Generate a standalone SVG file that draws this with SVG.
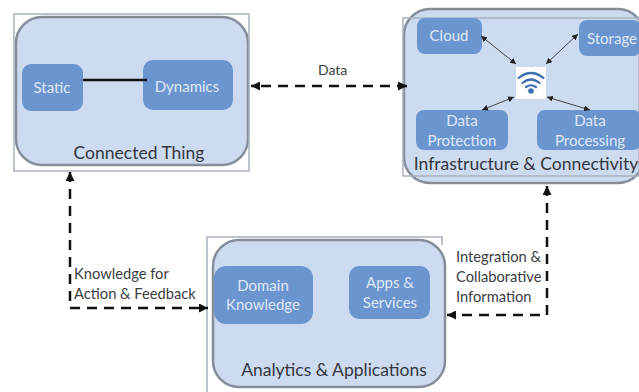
<svg xmlns="http://www.w3.org/2000/svg" width="639" height="392" viewBox="0 0 639 392">
<style>
text{font-family:"Lato","Open Sans","Liberation Sans",sans-serif}
.frame{fill:none;stroke:#a9b1bd;stroke-width:1.5}
.panel{fill:#cddbf1;stroke:#858d9b;stroke-width:2.5}
.box{fill:#6b95cf}
.w{fill:#dfe8f6;font-size:15px;text-anchor:middle}
.d{fill:#33383f;font-size:17.5px;text-anchor:middle}
.l{fill:#3a3d42;font-size:14.7px}
.dash{fill:none;stroke:#111;stroke-width:2.5;stroke-dasharray:10 7}
.thin{fill:none;stroke:#444;stroke-width:1;marker-start:url(#s);marker-end:url(#s)}
</style>
<defs>
<marker id="a" markerWidth="9" markerHeight="9" refX="6" refY="3" orient="auto-start-reverse" markerUnits="userSpaceOnUse" viewBox="0 0 6 6"><path d="M0 0L6 3L0 6Z" fill="#111"/></marker>
<marker id="s" markerWidth="6" markerHeight="6" refX="5" refY="2.5" orient="auto-start-reverse" markerUnits="userSpaceOnUse" viewBox="0 0 5 5"><path d="M0 0L5 2.500L0 5Z" fill="#222"/></marker>
</defs>
<rect width="639" height="392" fill="#fff"/>
<g id="connected-thing">
<rect class="panel" x="16" y="17" width="232" height="148" rx="26"/>
<rect class="frame" x="14" y="14" width="235" height="157"/>
<text class="d" x="139" y="159">Connected Thing</text>
</g>
<g id="static"><rect class="box" x="22" y="64" width="61" height="47" rx="9"/><text class="w" x="52" y="93">Static</text></g>
<g id="dynamics"><rect class="box" x="143" y="60" width="90" height="50" rx="10"/><text class="w" x="187" y="92">Dynamics</text></g>
<g id="infrastructure">
<rect class="panel" x="404" y="9" width="240" height="174" rx="26"/>
<rect class="frame" x="403" y="18" width="236" height="158"/>
<text class="d" x="526" y="170">Infrastructure &amp; Connectivity</text>
</g>
<g id="cloud"><rect class="box" x="417" y="18" width="65" height="36" rx="8"/><text class="w" x="449" y="41">Cloud</text></g>
<g id="storage"><rect class="box" x="579" y="20" width="62" height="36" rx="8"/><text class="w" x="612" y="44">Storage</text></g>
<g id="data-protection"><rect class="box" x="416" y="110" width="92" height="40" rx="8"/><text class="w" x="462" y="126">Data</text><text class="w" x="462" y="146">Protection</text></g>
<g id="data-processing"><rect class="box" x="537" y="110" width="104" height="40" rx="8"/><text class="w" x="590" y="126">Data</text><text class="w" x="590" y="146">Processing</text></g>
<g id="wifi">
<rect x="516" y="67" width="30" height="32" fill="#fff"/>
<g fill="none" stroke="#3d6fb0" stroke-width="2.2" stroke-linecap="round">
<path d="M518.5 78Q531 68 543.5 78"/><path d="M522.5 83Q531 76 539.5 83"/><path d="M526 87Q531 83.500 536 87"/>
</g>
<circle cx="531" cy="91" r="2.800" fill="#3d6fb0"/>
</g>
<g id="analytics">
<rect class="panel" x="213" y="240" width="232" height="147" rx="26"/>
<path class="frame" d="M207 392V237H442V245"/>
<text class="d" x="334" y="376">Analytics &amp; Applications</text>
</g>
<g id="domain-knowledge"><rect class="box" x="214" y="266" width="99" height="58" rx="12"/><text class="w" x="263" y="291">Domain</text><text class="w" x="263" y="310">Knowledge</text></g>
<g id="apps-services"><rect class="box" x="349" y="266" width="81" height="53" rx="10"/><text class="w" x="390" y="288">Apps &amp;</text><text class="w" x="390" y="308">Services</text></g>
<g id="connectors">
<path class="dash" d="M407 86H251" marker-end="url(#a)" marker-start="url(#a)"/>
<path class="dash" d="M70 172V308H208" marker-start="url(#a)" marker-end="url(#a)"/>
<path class="dash" d="M547 186V315H447" marker-start="url(#a)" marker-end="url(#a)"/>
<path fill="none" stroke="#111" stroke-width="2.5" d="M83 80H147"/>
<path class="thin" d="M481 36L516 64"/>
<path class="thin" d="M578 34L546 64"/>
<path class="thin" d="M514 97L482 110"/>
<path class="thin" d="M547 97L590 110"/>
</g>
<g id="labels">
<text class="l" x="318" y="75" style="font-size:14px">Data</text>
<text class="l" x="74" y="279">Knowledge for</text>
<text class="l" x="74" y="299">Action &amp; Feedback</text>
<text class="l" x="456" y="262">Integration &amp;</text>
<text class="l" x="456" y="282">Collaborative</text>
<text class="l" x="456" y="302">Information</text>
</g>
</svg>
